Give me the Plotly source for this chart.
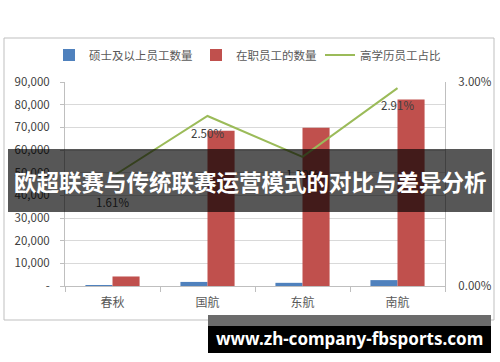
import plotly.graph_objects as go

categories = ["春秋", "国航", "东航", "南航"]
masters = [200, 1800, 1400, 2600]
employees = [4200, 68500, 69800, 82300]
ratio = [0.0161, 0.0250, 0.0190, 0.0291]
ratio_labels = ["1.61%", "2.50%", "1.90%", "2.91%"]
y_tickvals = [0, 10000, 20000, 30000, 40000, 50000, 60000, 70000, 80000, 90000]
y_ticktext = ["-", "10,000", "20,000", "30,000", "40,000", "50,000", "60,000", "70,000", "80,000", "90,000"]
y2_tickvals = [0, 0.03]
y2_ticktext = ["0.00%", "3.00%"]
series_names = ["硕士及以上员工数量", "在职员工的数量", "高学历员工占比"]
banner_title = "欧超联赛与传统联赛运营模式的对比与差异分析"
banner_url = "www.zh-company-fbsports.com"

W, H = 500, 362
L, R, T, B = 65, 445, 82, 286
FONT = "Noto Sans CJK SC, Noto Sans, sans-serif"


def px(x):
    return (x - L) / (R - L)


def py(y):
    return (B - y) / (B - T)


fig = go.Figure()
fig.add_trace(go.Bar(x=categories, y=masters, name=series_names[0],
                     marker=dict(color="#4F81BD", line=dict(width=0)), legend="legend"))
fig.add_trace(go.Bar(x=categories, y=employees, name=series_names[1],
                     marker=dict(color="#C0504D", line=dict(width=0)), legend="legend2"))
fig.add_trace(go.Scatter(x=categories, y=ratio, name=series_names[2], yaxis="y2",
                         mode="lines", line=dict(color="#9BBB59", width=2), legend="legend3"))
fig.add_trace(go.Scatter(x=categories, y=ratio, yaxis="y2", showlegend=False,
                         mode="markers+text", text=ratio_labels, textposition="bottom center",
                         textfont=dict(size=11.5, color="#404040", family=FONT),
                         marker=dict(size=[34, 20, 20, 20], color="rgba(0,0,0,0)",
                                     line=dict(width=0)),
                         hoverinfo="skip"))

legend_common = dict(orientation="h", yanchor="middle", xanchor="left",
                     xref="container", yref="container",
                     font=dict(size=11.5, color="#595959", family=FONT),
                     bgcolor="rgba(0,0,0,0)", itemwidth=30)

fig.update_layout(
    width=W, height=H, autosize=False,
    margin=dict(l=L, r=W - R, t=T, b=H - B, pad=0, autoexpand=False),
    paper_bgcolor="white", plot_bgcolor="white",
    barmode="group", bargap=0.43, bargroupgap=0,
    font=dict(family=FONT, size=11.5, color="#404040"),
    legend=dict(x=49 / W, y=1 - 55 / H, **legend_common),
    legend2=dict(x=196 / W, y=1 - 55 / H, **legend_common),
    legend3=dict(x=320 / W, y=1 - 55 / H, **legend_common),
    xaxis=dict(type="category", showline=True, linecolor="#bfbfbf", linewidth=1,
               ticks="outside", tickson="boundaries", ticklen=5, tickcolor="#bfbfbf",
               ticklabelstandoff=6, automargin=False,
               tickfont=dict(size=12, color="#595959"), showgrid=False),
    yaxis=dict(range=[0, 90000], tickvals=y_tickvals, ticktext=y_ticktext,
               showgrid=True, gridcolor="#d9d9d9", gridwidth=1,
               showline=True, linecolor="#bfbfbf", linewidth=1, automargin=False,
               ticks="outside", ticklen=4, tickcolor="#bfbfbf", ticklabelstandoff=8,
               tickfont=dict(size=11.5, color="#404040"), zeroline=False),
    yaxis2=dict(range=[0, 0.03], tickvals=y2_tickvals, ticktext=y2_ticktext,
                overlaying="y", side="right", showgrid=False, zeroline=False, automargin=False,
                showline=True, linecolor="#bfbfbf", linewidth=1, ticks="",
                ticklabelstandoff=10, tickfont=dict(size=11.5, color="#404040")),
)

shapes = [
    dict(type="rect", xref="paper", yref="paper", x0=px(4), x1=px(494), y0=py(320), y1=py(38),
         line=dict(color="#bfbfbf", width=1), fillcolor="rgba(0,0,0,0)", layer="below"),
    dict(type="rect", xref="paper", yref="paper", x0=px(8), x1=px(492), y0=py(212), y1=py(149),
         line=dict(width=0), fillcolor="rgba(0,0,0,0.66)", layer="above"),
    dict(type="rect", xref="paper", yref="paper", x0=px(208), x1=px(491), y0=py(326), y1=py(315),
         line=dict(width=0), fillcolor="#6b6b6b", layer="above"),
    dict(type="rect", xref="paper", yref="paper", x0=px(208), x1=px(491), y0=py(353), y1=py(326),
         line=dict(width=0), fillcolor="#000000", layer="above"),
]
fig.update_layout(shapes=shapes)

fig.add_annotation(xref="paper", yref="paper", x=px(250), y=py(181), text="<b>" + banner_title + "</b>",
                   showarrow=False, font=dict(size=22.5, color="white", family=FONT),
                   xanchor="center", yanchor="middle")
fig.add_annotation(xref="paper", yref="paper", x=px(349), y=py(338), text="<b>" + banner_url + "</b>",
                   showarrow=False, font=dict(size=17, color="white", family="Noto Sans, Open Sans, sans-serif"),
                   xanchor="center", yanchor="middle")

fig.write_html("out.html")
